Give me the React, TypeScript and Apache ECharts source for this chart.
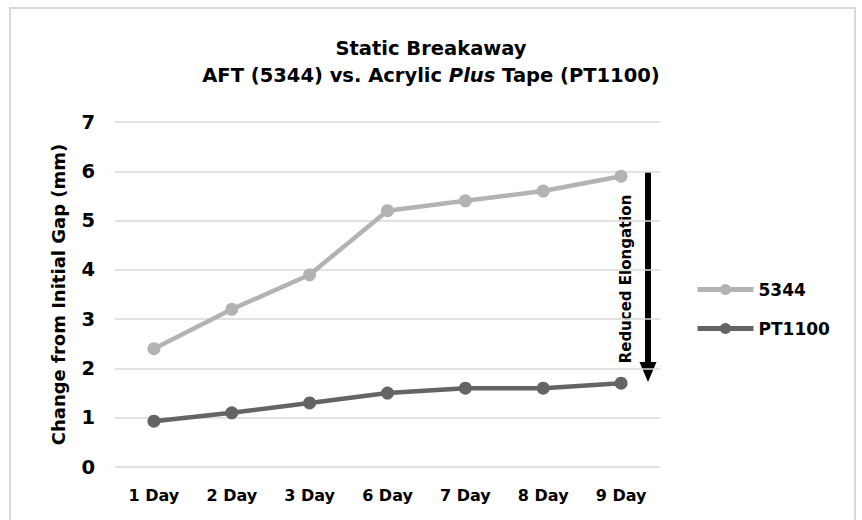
import React, { useEffect, useRef } from "react";
import * as echarts from "echarts";

const categories = ["1 Day", "2 Day", "3 Day", "6 Day", "7 Day", "8 Day", "9 Day"];
const series5344 = [2.4, 3.2, 3.9, 5.2, 5.4, 5.6, 5.9];
const seriesPT1100 = [0.93, 1.1, 1.3, 1.5, 1.6, 1.6, 1.7];
const seriesNames = ["5344", "PT1100"];
const seriesColors = ["#b3b3b3", "#646464"];
const FONT = "'DejaVu Sans', sans-serif";

export default function App() {
  const ref = useRef<HTMLDivElement>(null);
  useEffect(() => {
    if (!ref.current) return;
    const chart = echarts.init(ref.current, null, { renderer: "svg" });
    chart.setOption({
      animation: false,
      backgroundColor: "#ffffff",
      textStyle: { fontFamily: FONT },
      title: {
        text: "Static Breakaway\nAFT (5344) vs. Acrylic {i|Plus} Tape (PT1100)",
        left: "center",
        top: 30,
        textStyle: {
          fontFamily: FONT,
          fontSize: 19.5,
          fontWeight: "bold",
          color: "#000",
          lineHeight: 27,
          rich: {
            i: { fontFamily: FONT, fontSize: 19.5, fontWeight: "bold", fontStyle: "italic", color: "#000" },
          },
        },
      },
      legend: {
        orient: "vertical",
        left: 690,
        top: 276,
        itemGap: 22,
        itemWidth: 56,
        itemHeight: 14,
        lineStyle: { width: 5 },
        textStyle: { fontFamily: FONT, fontSize: 17, fontWeight: "bold", color: "#000" },
        data: seriesNames,
      },
      grid: { left: 115, right: 202, top: 122, bottom: 53 },
      xAxis: {
        type: "category",
        data: categories,
        boundaryGap: true,
        axisLine: { show: false },
        axisTick: { show: false },
        axisLabel: { fontFamily: FONT, fontSize: 16, fontWeight: "bold", color: "#000", margin: 20 },
      },
      yAxis: {
        type: "value",
        min: 0,
        max: 7,
        interval: 1,
        name: "Change from Initial Gap (mm)",
        nameLocation: "middle",
        nameGap: 48,
        nameTextStyle: { fontFamily: FONT, fontSize: 18, fontWeight: "bold", color: "#000" },
        axisLine: { show: false },
        axisTick: { show: false },
        axisLabel: { fontFamily: FONT, fontSize: 19.5, fontWeight: "bold", color: "#000", margin: 20 },
        splitLine: { lineStyle: { color: "#d9d9d9", width: 1.5 } },
      },
      series: [
        {
          name: seriesNames[0],
          type: "line",
          data: series5344,
          symbol: "circle",
          symbolSize: 13,
          itemStyle: { color: seriesColors[0] },
          lineStyle: { color: seriesColors[0], width: 4.5 },
        },
        {
          name: seriesNames[1],
          type: "line",
          data: seriesPT1100,
          symbol: "circle",
          symbolSize: 13,
          itemStyle: { color: seriesColors[1] },
          lineStyle: { color: seriesColors[1], width: 4.5 },
        },
      ],
      graphic: [
        {
          type: "rect",
          shape: { x: 10, y: 8, width: 845, height: 530 },
          style: { fill: "none", stroke: "#d9d9d9", lineWidth: 2 },
          silent: true,
        },
        {
          type: "rect",
          shape: { x: 645, y: 172, width: 6, height: 192 },
          style: { fill: "#000" },
        },
        {
          type: "polygon",
          shape: { points: [[639.5, 362], [656.5, 362], [648, 382]] },
          style: { fill: "#000" },
        },
        {
          type: "text",
          x: 626,
          y: 279,
          rotation: Math.PI / 2,
          style: {
            text: "Reduced Elongation",
            font: "bold 15px 'DejaVu Sans', sans-serif",
            fill: "#000",
            align: "center",
            verticalAlign: "middle",
          },
        },
      ],
    });
    return () => chart.dispose();
  }, []);
  return <div ref={ref} style={{ position: "fixed", left: 0, top: 0, width: 862, height: 520 }} />;
}
